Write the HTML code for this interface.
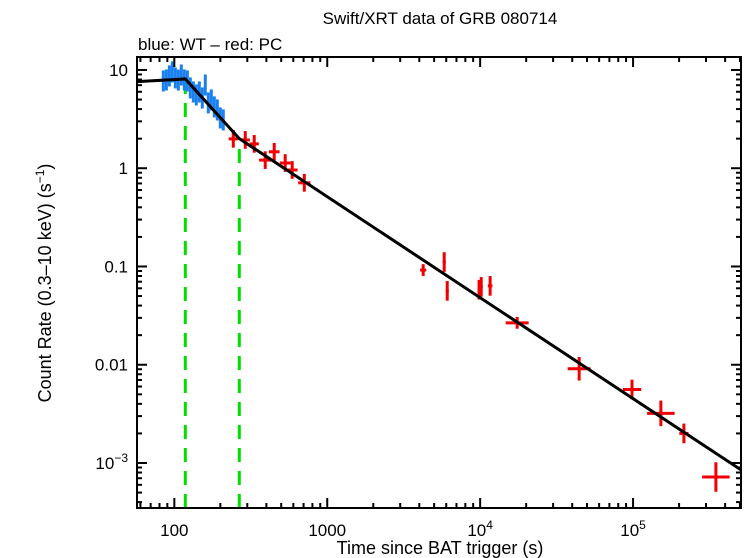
<!DOCTYPE html>
<html><head><meta charset="utf-8"><style>
body{margin:0;background:#fff;}
svg{display:block;font-family:"Liberation Sans",sans-serif;}
</style></head><body>
<svg id="chart" width="746" height="558" xmlns="http://www.w3.org/2000/svg">
<text x="440" y="24" font-size="17" text-anchor="middle">Swift/XRT data of GRB 080714</text>
<text x="138" y="50" font-size="17">blue: WT – red: PC</text>
<text x="440" y="554" font-size="18" text-anchor="middle">Time since BAT trigger (s)</text>
<text transform="translate(51,283) rotate(-90)" font-size="18" text-anchor="middle">Count Rate (0.3–10 keV) (s<tspan font-size="12" dy="-7">−1</tspan><tspan dy="7">)</tspan></text>
<g id="plot"></g>
</svg>
<script>
const wtTime=[84.7,88.7,92.8,97.0,101.5,106.2,111.1,116.2,121.6,127.2,133.1,139.2,145.7,152.4,159.4,166.8,174.5,182.5,191.0,199.8,209.0];
const wtRate=[7.73,7.91,8.69,9.55,8.3,7.9,8.89,7.91,7.73,6.56,5.97,5.57,5.97,5.19,7.03,4.62,4.95,4.21,3.92,3.25,3.10];
const pcTime=[243,291,333,393,450,531,590,708,4240,5820,6090,9840,10160,11620,17460,44400,98400,152000,215000,348000];
const pcRate=[1.99,1.94,1.77,1.21,1.47,1.13,0.96,0.71,0.092,0.111,0.0565,0.058,0.062,0.0635,0.0267,0.0091,0.0056,0.0032,0.0020,0.00072];
const pcXerr=[0.03,0.03,0.03,0.04,0.035,0.035,0.035,0.04,0.02,0.01,0.01,0.01,0.01,0.015,0.075,0.075,0.06,0.09,0.03,0.09];
const pcYerr=[0.09,0.09,0.09,0.09,0.09,0.09,0.09,0.09,0.06,0.1,0.1,0.1,0.1,0.1,0.06,0.12,0.1,0.13,0.1,0.15];
const modelT=[57,118,266,508000];
const modelR=[7.6,8.1,2.0,0.00085];
const breaks=[118,266];
const xTickLabels=["100","1000","10^4","10^5"];
const xTickVals=[100,1000,10000,100000];
const yTickVals=[10,1,0.1,0.01,0.001];
const yTickLabels=["10","1","0.1","0.01","10^−3"];

const L=137,R=741,T=57,B=508;
const xmin=Math.log10(57),xmax=Math.log10(508000);
const ymin=-3.458,ymax=1.132;
const X=t=>L+(Math.log10(t)-xmin)/(xmax-xmin)*(R-L);
const Y=r=>B-(Math.log10(r)-ymin)/(ymax-ymin)*(B-T);
const NS="http://www.w3.org/2000/svg";
const g=document.getElementById('plot');
function mk(tag,attrs,parent){const e=document.createElementNS(NS,tag);for(const k in attrs)e.setAttribute(k,attrs[k]);(parent||g).appendChild(e);return e;}
function line(x1,y1,x2,y2,c,w,extra,parent){return mk('line',Object.assign({x1,y1,x2,y2,stroke:c,'stroke-width':w},extra||{}),parent);}

breaks.forEach((b,i)=>{
  const e=line(X(b),B,X(b),Y(b===118?8.1:2.0),'#00e000',3,{'stroke-dasharray':'14,9'});
  
  
});
wtTime.forEach((t,i)=>{
  const gg=mk('g',{});
  
  
  const x=X(t),r=wtRate[i];
  line(x,Y(r*1.28),x,Y(r/1.28),'#1a80f0',3,null,gg);
  line(X(t*0.985),Y(r),X(t*1.015),Y(r),'#1a80f0',2,null,gg);
});
pcTime.forEach((t,i)=>{
  const gg=mk('g',{});
  
  
  const x=X(t),r=pcRate[i],dx=pcXerr[i],dy=pcYerr[i];
  line(X(t/Math.pow(10,dx)),Y(r),X(t*Math.pow(10,dx)),Y(r),'#f00000',3,null,gg);
  line(x,Y(r*Math.pow(10,dy)),x,Y(r/Math.pow(10,dy)),'#f00000',3,null,gg);
});
const pl=mk('polyline',{points:modelT.map((t,i)=>X(t)+','+Y(modelR[i])).join(' '),fill:'none',stroke:'#000','stroke-width':3});


const fr=mk('rect',{x:L,y:T,width:R-L,height:B-T,fill:'none',stroke:'#000','stroke-width':2});


for(let d=1;d<=5;d++)for(let m=1;m<=9;m++){
  const t=m*Math.pow(10,d);if(t<57||t>508000)continue;
  const len=m===1?10:5,x=X(t);
  line(x,B,x,B-len,'#000',2);line(x,T,x,T+len,'#000',2);
}
xTickVals.forEach((v,i)=>{
  const lab=xTickLabels[i];
  const tx=mk('text',{x:X(v),y:536,'font-size':17,'text-anchor':'middle'});
  
  
  if(lab.includes('^')){const p=lab.split('^');tx.textContent=p[0];const s=mk('tspan',{'font-size':12,dy:-7},tx);s.textContent=p[1];}
  else tx.textContent=lab;
});
for(let d=-4;d<=1;d++)for(let m=1;m<=9;m++){
  const r=m*Math.pow(10,d);const lr=Math.log10(r);if(lr<ymin||lr>ymax)continue;
  const len=m===1?10:5,y=Y(r);
  line(L,y,L+len,y,'#000',2);line(R,y,R-len,y,'#000',2);
}
yTickVals.forEach((v,i)=>{
  const lab=yTickLabels[i];
  const tx=mk('text',{x:128,y:Y(v)+6,'font-size':17,'text-anchor':'end'});
  
  
  if(lab.includes('^')){const p=lab.split('^');tx.textContent=p[0];const s=mk('tspan',{'font-size':12,dy:-7},tx);s.textContent=p[1];}
  else tx.textContent=lab;
});
</script>
</body></html>
